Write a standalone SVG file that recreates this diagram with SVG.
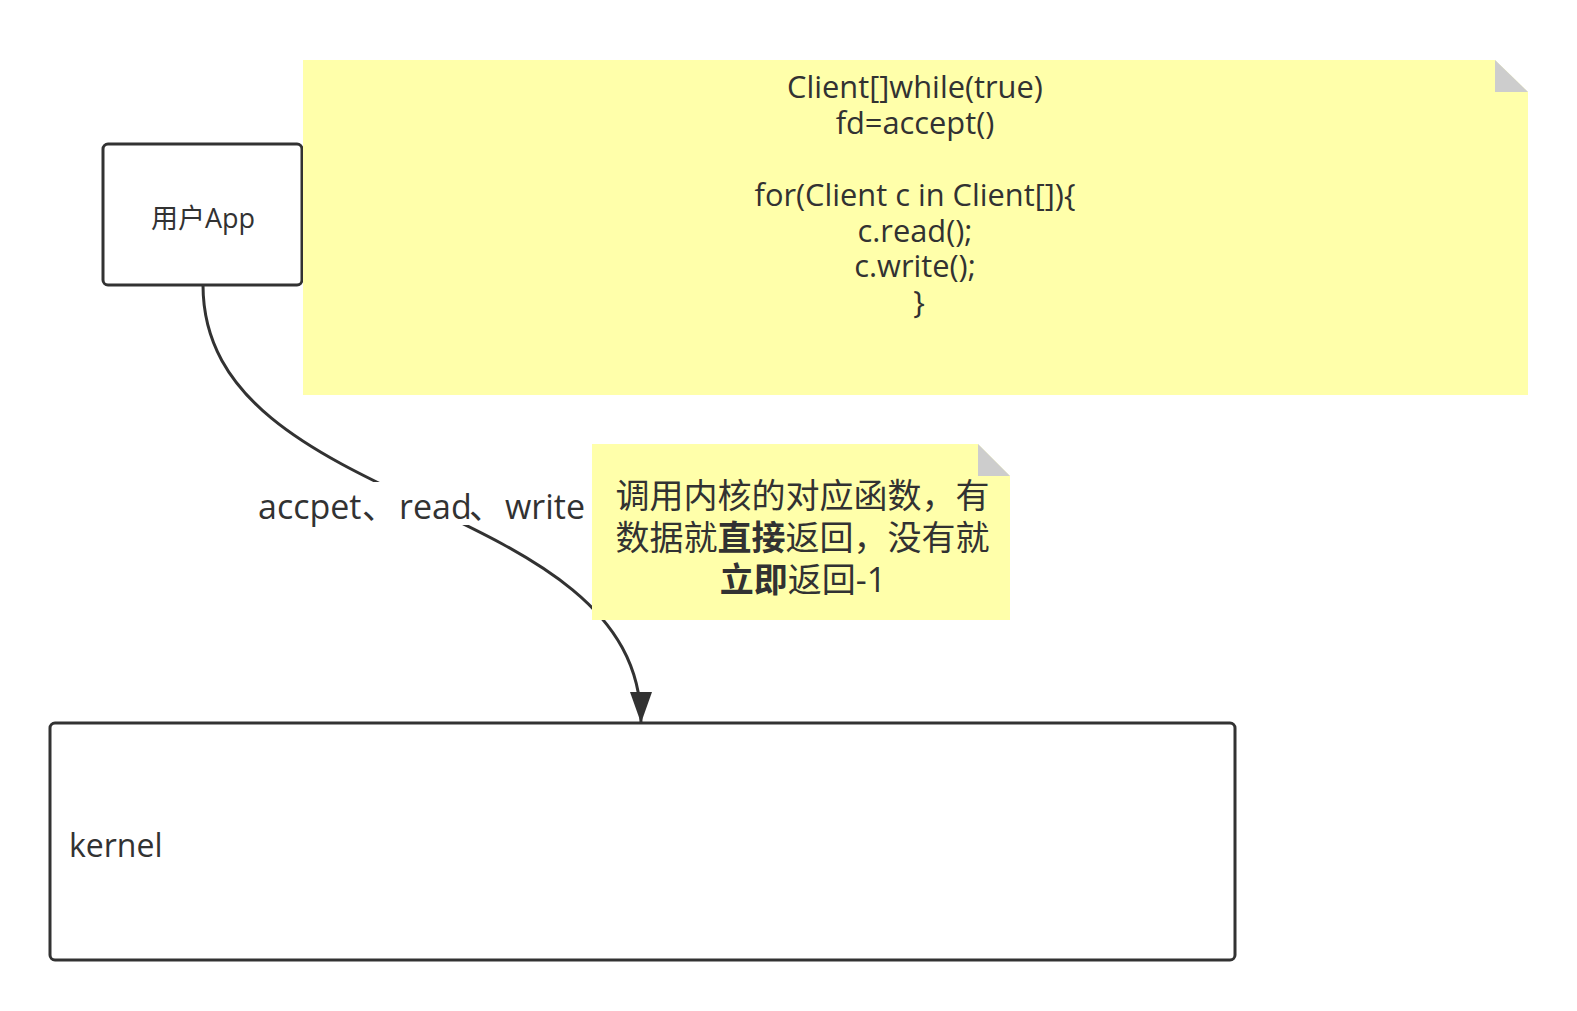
<svg xmlns="http://www.w3.org/2000/svg" width="1577" height="1011" viewBox="0 0 1577 1011">
<defs>
<style>
.box{fill:#ffffff;stroke:#323232;stroke-width:3}
.note{fill:#ffffaa}
.fold{fill:#cdcdcd}
.t{font-family:"Open Sans","Noto Sans CJK SC",sans-serif;fill:#323232}
.cjk{font-family:"Noto Sans CJK SC",sans-serif;fill:#323232}
.edge{fill:none;stroke:#323232;stroke-width:3}
</style>
<marker id="arrow" markerUnits="userSpaceOnUse" markerWidth="32" markerHeight="24" viewBox="0 0 32 24" refX="31" refY="12" orient="auto">
<path d="M0,1 L31,12 L0,23 Z" fill="#323232"/>
</marker>
</defs>
<rect width="1577" height="1011" fill="#ffffff"/>

<g id="kernel">
<rect class="box" x="50" y="723" width="1185" height="237" rx="5"/>
<text class="t" x="69" y="857" font-size="32">kernel</text>
</g>

<g id="userapp">
<rect class="box" x="103" y="144" width="199" height="141" rx="5"/>
<text class="t" x="203" y="228" font-size="27" text-anchor="middle">用户App</text>
</g>

<g id="code-note">
<polygon class="note" points="303,60 1495,60 1528,92 1528,395 303,395"/>
<polygon class="fold" points="1495,60 1495,92 1528,92"/>
<text class="t" font-size="30.8" text-anchor="middle">
<tspan x="919" y="98">Client[]while(true)</tspan>
<tspan x="919" y="134">fd=accept()</tspan>
<tspan x="919" y="206">for(Client c in Client[]){</tspan>
<tspan x="919" y="242">c.read();</tspan>
<tspan x="919" y="277">c.write();</tspan>
<tspan x="919" y="313">}</tspan>
</text>
</g>

<g id="connectors">
<path class="edge" d="M203,285 C203,515 641,493 641,723" marker-end="url(#arrow)"/>
<g id="edge-label">
<rect x="256" y="482" width="334" height="43" fill="#ffffff"/>
<text class="t" font-size="34" y="519"><tspan x="258">accpet</tspan><tspan x="362" class="cjk">、</tspan><tspan x="399">read</tspan><tspan x="469" class="cjk">、</tspan><tspan x="505">write</tspan></text>
</g>
</g>

<g id="syscall-note">
<polygon class="note" points="592,444 978,444 1010,476 1010,620 592,620"/>
<polygon class="fold" points="978,444 978,476 1010,476"/>
<text class="t" font-size="34" text-anchor="middle">
<tspan x="807" y="508">调用内核的对应函数，有</tspan>
<tspan x="807" y="550">数据就<tspan font-weight="bold">直接</tspan>返回，没有就</tspan>
<tspan x="803" y="592"><tspan font-weight="bold">立即</tspan>返回-1</tspan>
</text>
</g>
</svg>
